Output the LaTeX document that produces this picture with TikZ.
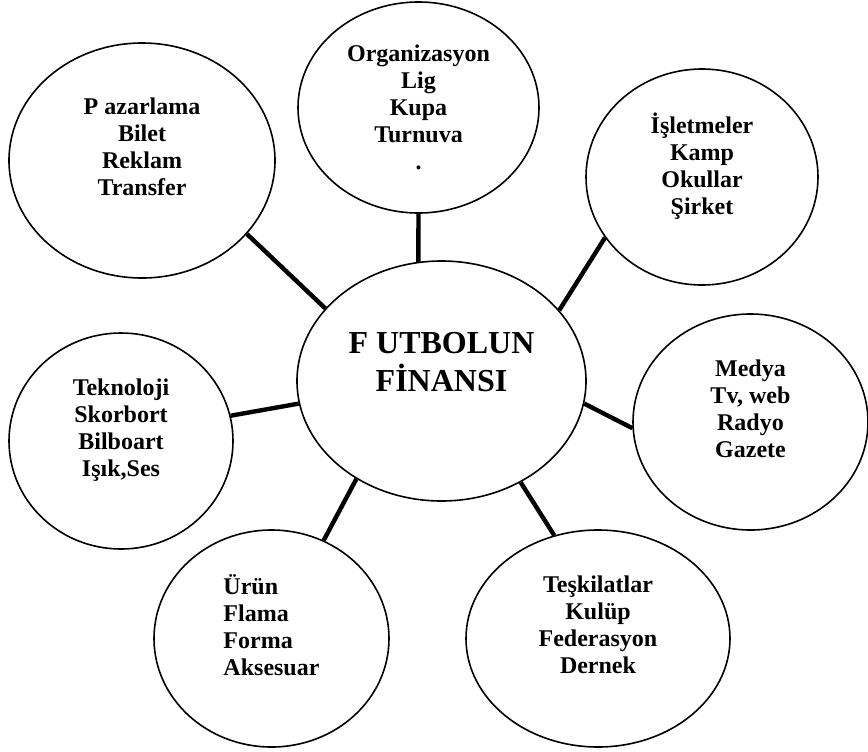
\documentclass[tikz,border=0pt]{standalone}
\usepackage{fontspec}
\setmainfont{Liberation Serif}
\usepackage{tikz}
\usetikzlibrary{shapes.geometric}

\begin{document}
\begin{tikzpicture}[x=0.5pt,y=-0.5pt,
        bubble/.style={draw,ellipse,line width=0.8pt,inner sep=0pt,align=center,
            font=\bfseries\fontsize{12}{13.5}\selectfont},
        link/.style={line width=2.2pt}]
        \useasboundingbox (0,0) rectangle (868,751);
        % centre
        \node[bubble,minimum width=144.5pt,minimum height=120pt,
            font=\bfseries\fontsize{16}{19}\selectfont] (fin) at (441.5,381) {F UTBOLUN\\FİNANSI\\\mbox{}};
        % outer bubbles
        \node[bubble,minimum width=133pt,minimum height=117.5pt] (paz) at (142,160.5) {P azarlama\\Bilet\\Reklam\\Transfer\\\mbox{}};
        \node[bubble,minimum width=120.5pt,minimum height=105.5pt] (org) at (418.5,107.5) {Organizasyon\\Lig\\Kupa\\Turnuva\\.};
        \node[bubble,minimum width=116pt,minimum height=108pt] (isl) at (702,177) {İşletmeler\\Kamp\\Okullar\\Şirket\\\mbox{}};
        \node[bubble,minimum width=112pt,minimum height=108pt] (tek) at (121,441) {Teknoloji\\Skorbort\\Bilboart\\Işık,Ses\\\mbox{}};
        \node[bubble,minimum width=117.5pt,minimum height=108pt] (med) at (750.5,422) {Medya\\Tv, web\\Radyo\\Gazete\\\mbox{}};
        \node[bubble,minimum width=117.5pt,minimum height=108.5pt,align=left] (urun) at (271.5,638.5) {Ürün\\Flama\\Forma\\Aksesuar\\\mbox{}};
        \node[bubble,minimum width=132pt,minimum height=108.5pt] (tes) at (598,638.5) {Teşkilatlar\\Kulüp\\Federasyon\\Dernek\\\mbox{}};
        % spokes
        \draw[link] (fin.148.6) -- (paz.-35.3);
        \draw[link] (fin.101) -- (org.-90);
        \draw[link] (fin.31) -- (isl.212.8);
        \draw[link] (fin.189.5) -- (tek.13.8);
        \draw[link] (fin.-9.8) -- (med.183.6);
        \draw[link] (fin.229.2) -- (urun.62.3);
        \draw[link] (fin.-52.9) -- (tes.113.6);
    \end{tikzpicture}
\end{document}
